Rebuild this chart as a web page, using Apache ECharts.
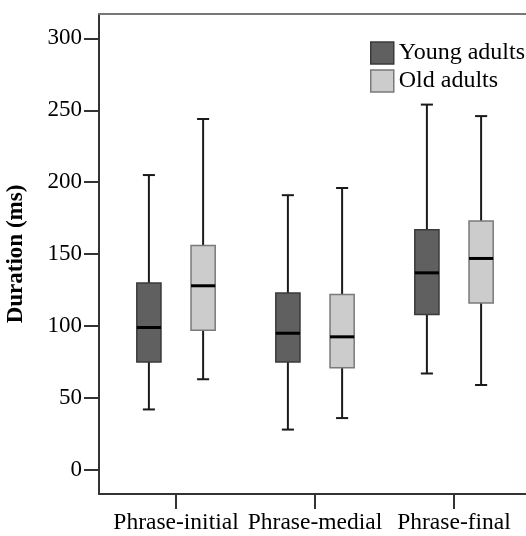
<!DOCTYPE html>
<html>
<head>
<meta charset="utf-8">
<script src="https://cdn.jsdelivr.net/npm/echarts@6/dist/echarts.min.js"></script>
<style>
  html, body { margin: 0; padding: 0; background: #fff; }
  #chart { width: 526px; height: 536px; }
</style>
</head>
<body>
<div id="chart"></div>
<script>
// categories on the x axis
var categories = ['Phrase-initial', 'Phrase-medial', 'Phrase-final'];
var seriesNames = ['Young adults', 'Old adults'];
// [min, Q1, median, Q3, max] per category
var youngValues = [
    [42, 75, 99, 130, 205],
    [28, 75, 95, 123, 191],
    [67, 108, 137, 167, 254]
];
var oldValues = [
    [63, 97, 128, 156, 244],
    [36, 71, 92.5, 122, 196],
    [59, 116, 147, 173, 246]
];
var yTicks = [0, 50, 100, 150, 200, 250, 300];
var xTicks = [1, 2, 3];

var FONT = '"Liberation Serif", "Times New Roman", serif';

function toRows(values) {
    return values.map(function (v, i) {
        return [i + 1].concat(v);
    });
}

// draws one box + whiskers; offset and widths are fractions of one category band
function boxRenderer(offset, fill, border) {
    return function (params, api) {
        var x = api.value(0);
        var band = api.size([1, 0])[0];
        var cx = api.coord([x, 0])[0] + offset * band;
        var half = band * 0.087;
        var capHalf = half / 2;
        var yMin = api.coord([x, api.value(1)])[1];
        var yQ1 = api.coord([x, api.value(2)])[1];
        var yMed = api.coord([x, api.value(3)])[1];
        var yQ3 = api.coord([x, api.value(4)])[1];
        var yMax = api.coord([x, api.value(5)])[1];
        var whisker = { stroke: '#1a1a1a', lineWidth: 2 };
        return {
            type: 'group',
            children: [
                { type: 'line', shape: { x1: cx, y1: yMax, x2: cx, y2: yQ3 }, style: whisker },
                { type: 'line', shape: { x1: cx, y1: yQ1, x2: cx, y2: yMin }, style: whisker },
                { type: 'line', shape: { x1: cx - capHalf, y1: yMax, x2: cx + capHalf, y2: yMax }, style: whisker },
                { type: 'line', shape: { x1: cx - capHalf, y1: yMin, x2: cx + capHalf, y2: yMin }, style: whisker },
                {
                    type: 'rect',
                    shape: { x: cx - half, y: yQ3, width: half * 2, height: yQ1 - yQ3 },
                    style: { fill: fill, stroke: border, lineWidth: 1.5 }
                },
                { type: 'line', shape: { x1: cx - half, y1: yMed, x2: cx + half, y2: yMed }, style: { stroke: '#000', lineWidth: 3 } }
            ]
        };
    };
}

var chart = echarts.init(document.getElementById('chart'));

var option = {
    animation: false,
    grid: { left: 99, right: 0, top: 14, bottom: 42, outerBoundsMode: 'none', containLabel: false },
    legend: {
        left: 370,
        top: 41,
        padding: 0,
        orient: 'vertical',
        itemWidth: 23,
        itemHeight: 22,
        itemGap: 4,
        textStyle: { fontFamily: FONT, fontSize: 24, color: '#000' },
        data: [
            { name: seriesNames[0], icon: 'rect', itemStyle: { color: '#606060', borderColor: '#3a3a3a', borderWidth: 1.5 } },
            { name: seriesNames[1], icon: 'rect', itemStyle: { color: '#cccccc', borderColor: '#7a7a7a', borderWidth: 1.5 } }
        ]
    },
    xAxis: [{
        type: 'value',
        min: 0.446,
        max: 3.518,
        axisLine: { show: true, onZero: false, lineStyle: { color: '#333', width: 2 } },
        axisTick: { show: true, customValues: xTicks, length: 15, lineStyle: { color: '#333', width: 2 } },
        axisLabel: {
            customValues: xTicks,
            formatter: function (v) { return categories[Math.round(v) - 1]; },
            fontFamily: FONT, fontSize: 23.5, color: '#000', margin: 17
        },
        splitLine: { show: false }
    }, {
        type: 'value',
        position: 'top',
        min: 0.446,
        max: 3.518,
        axisLine: { show: true, onZero: false, lineStyle: { color: '#777', width: 2 } },
        axisTick: { show: false },
        axisLabel: { show: false },
        splitLine: { show: false }
    }],
    yAxis: {
        type: 'value',
        min: -16.8,
        max: 317,
        name: 'Duration (ms)',
        nameLocation: 'middle',
        nameGap: 71,
        nameTextStyle: { fontFamily: FONT, fontSize: 23, fontWeight: 'bold', color: '#000' },
        axisLine: { show: true, onZero: false, lineStyle: { color: '#333', width: 2 } },
        axisTick: { show: true, customValues: yTicks, length: 15, lineStyle: { color: '#333', width: 2 } },
        axisLabel: { customValues: yTicks, fontFamily: FONT, fontSize: 23, color: '#000', margin: 17 },
        splitLine: { show: false }
    },
    series: [{
        name: seriesNames[0],
        type: 'custom',
        itemStyle: { color: '#606060' },
        renderItem: boxRenderer(-0.195, '#606060', '#3a3a3a'),
        encode: { x: 0, y: [1, 2, 3, 4, 5] },
        data: toRows(youngValues)
    }, {
        name: seriesNames[1],
        type: 'custom',
        itemStyle: { color: '#cccccc' },
        renderItem: boxRenderer(0.195, '#cccccc', '#7a7a7a'),
        encode: { x: 0, y: [1, 2, 3, 4, 5] },
        data: toRows(oldValues)
    }]
};

chart.setOption(option);
</script>
</body>
</html>
